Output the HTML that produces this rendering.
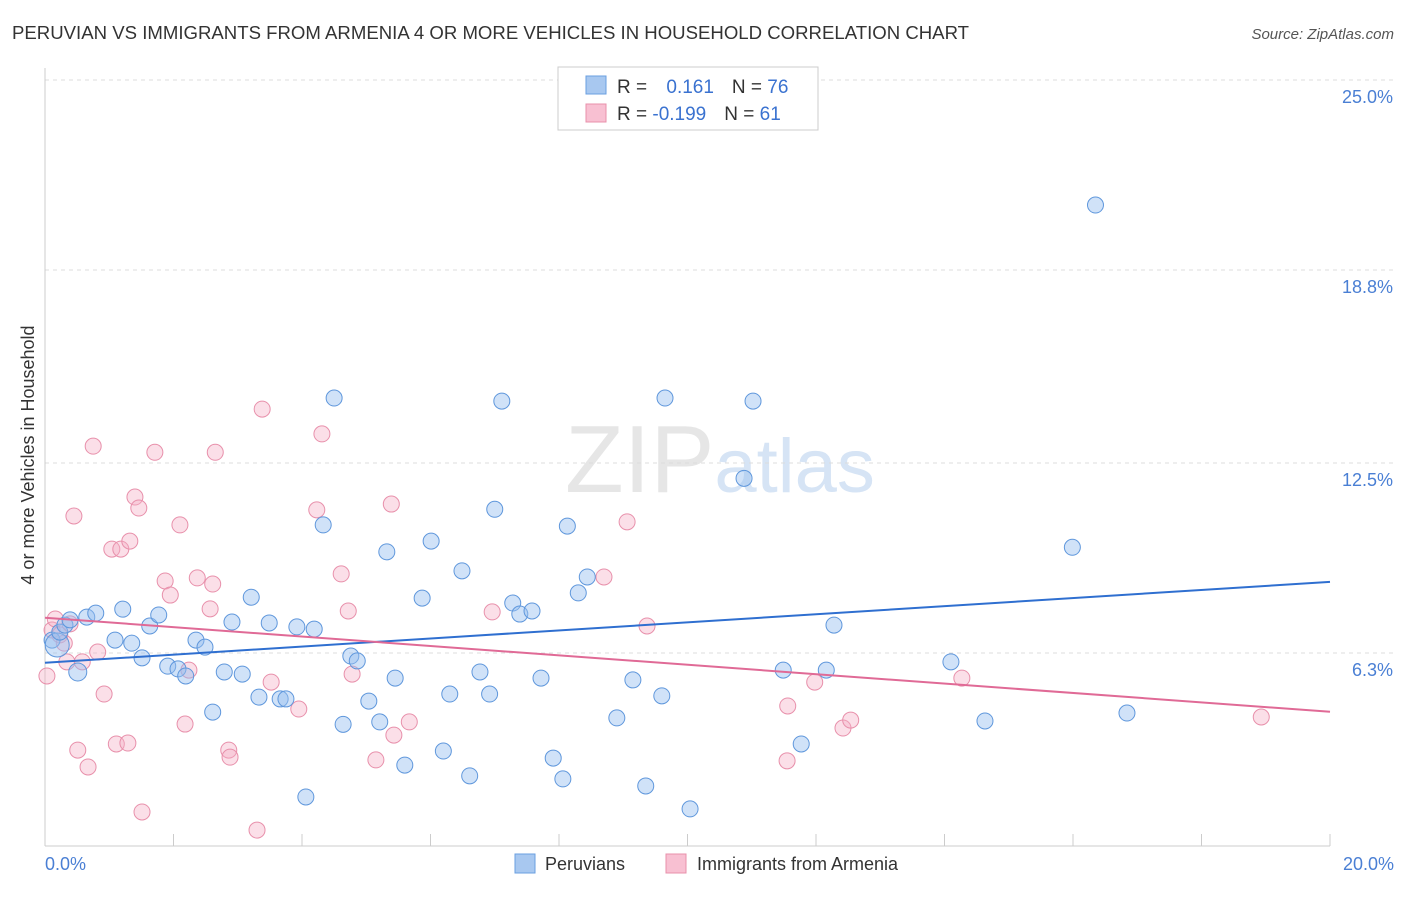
<!DOCTYPE html>
<html><head><meta charset="utf-8">
<style>
body{margin:0;background:#fff;font-family:"Liberation Sans",sans-serif;}
svg text{font-family:"Liberation Sans",sans-serif;}
</style></head>
<body>
<svg id="chart" width="1406" height="892" xmlns="http://www.w3.org/2000/svg">
<text x="12" y="39" font-size="18.6" fill="#333">PERUVIAN VS IMMIGRANTS FROM ARMENIA 4 OR MORE VEHICLES IN HOUSEHOLD CORRELATION CHART</text>
<text x="1394" y="39" font-size="15" fill="#555" text-anchor="end" font-style="italic">Source: ZipAtlas.com</text>
<text x="720" y="492" font-size="96" fill="#e6e6e6" text-anchor="middle" font-family="Liberation Serif">ZIP<tspan fill="#d6e4f5" font-family="Liberation Sans" font-size="76">atlas</tspan></text>
<g id="grid"></g>
<g id="marks"></g>
<text transform="translate(34,455) rotate(-90)" font-size="18" fill="#333" text-anchor="middle">4 or more Vehicles in Household</text>
<text x="45" y="870" font-size="18" fill="#4a7fd4">0.0%</text>
<text x="1394" y="870" font-size="18" fill="#4a7fd4" text-anchor="end">20.0%</text>
<g>
<rect x="558" y="67" width="260" height="63" fill="#fff" stroke="#ccc"/>
<rect x="586" y="76" width="20" height="18" fill="#a8c8f0" stroke="#6a9fe0"/>
<rect x="586" y="104" width="20" height="18" fill="#f8c0d2" stroke="#e890ab"/>
<text x="617" y="93" font-size="19" fill="#333">R = <tspan fill="#3a72d0" dx="14">0.161</tspan><tspan dx="18">N = </tspan><tspan fill="#3a72d0">76</tspan></text>
<text x="617" y="120" font-size="19" fill="#333">R = <tspan fill="#3a72d0">-0.199</tspan><tspan dx="18">N = </tspan><tspan fill="#3a72d0">61</tspan></text>
</g>
<g>
<rect x="515" y="854" width="20" height="19" fill="#a8c8f0" stroke="#6a9fe0"/>
<text x="545" y="870" font-size="18" fill="#333">Peruvians</text>
<rect x="666" y="854" width="20" height="19" fill="#f8c0d2" stroke="#e890ab"/>
<text x="697" y="870" font-size="18" fill="#333">Immigrants from Armenia</text>
</g>
</svg>
<script>
const yTicks=[25.0,18.8,12.5,6.3];
const yTickLabels=["25.0%","18.8%","12.5%","6.3%"];
const xTicks=[0,2,4,6,8,10,12,14,16,18,20];
const blueX=[0.11,0.19,0.23,0.31,0.39,0.51,0.65,0.79,1.09,1.21,1.35,1.51,1.63,1.77,1.91,2.07,2.19,2.35,2.49,2.61,2.79,2.91,3.07,3.21,3.33,3.49,3.66,3.75,3.92,4.06,4.19,4.33,4.5,4.64,4.76,4.86,5.04,5.21,5.32,5.45,5.6,5.87,6.01,6.2,6.3,6.49,6.61,6.77,6.92,7.0,7.11,7.28,7.39,7.58,7.72,7.91,8.06,8.13,8.3,8.44,8.9,9.15,9.35,9.6,9.65,10.04,10.88,11.02,11.49,11.77,12.16,12.28,14.1,14.63,15.99,16.35,16.84];
const blueY=[6.72,6.56,6.98,7.21,7.38,5.68,7.47,7.6,6.72,7.73,6.62,6.14,7.18,7.54,5.87,5.78,5.55,6.72,6.49,4.37,5.68,7.31,5.61,8.12,4.86,7.28,4.8,4.8,7.15,1.6,7.08,10.48,14.62,3.97,6.2,6.04,4.73,4.05,9.6,5.48,2.64,8.09,9.95,3.1,4.96,8.98,2.29,5.68,4.96,10.99,14.52,7.93,7.57,7.67,5.48,2.87,2.19,10.44,8.26,8.78,4.18,5.42,1.96,4.9,14.62,1.21,12.0,14.52,5.74,3.33,5.74,7.21,6.01,4.08,9.75,20.92,4.34];
const blueR=[8,12,8,8,8,9,8,8,8,8,8,8,8,8,8,8,8,8,8,8,8,8,8,8,8,8,8,8,8,8,8,8,8,8,8,8,8,8,8,8,8,8,8,8,8,8,8,8,8,8,8,8,8,8,8,8,8,8,8,8,8,8,8,8,8,8,8,8,8,8,8,8,8,8,8,8,8];
const pinkX=[0.03,0.11,0.16,0.23,0.3,0.34,0.39,0.45,0.51,0.58,0.67,0.75,0.82,0.92,1.04,1.11,1.18,1.29,1.32,1.4,1.46,1.51,1.71,1.87,1.95,2.1,2.18,2.24,2.37,2.57,2.61,2.65,2.86,2.88,3.3,3.38,3.52,3.95,4.23,4.31,4.61,4.72,4.78,5.15,5.39,5.43,5.67,6.96,8.7,9.06,9.37,11.56,11.55,11.98,12.42,12.54,14.27,18.93];
const pinkY=[5.55,7.05,7.41,6.89,6.62,6.01,7.25,10.77,3.13,6.01,2.58,13.05,6.33,4.96,9.69,3.33,9.69,3.36,9.95,11.39,11.03,1.11,12.85,8.65,8.19,10.48,3.98,5.74,8.75,7.74,8.55,12.85,3.13,2.9,0.52,14.26,5.35,4.47,10.97,13.45,8.88,7.67,5.61,2.81,11.16,3.62,4.05,7.64,8.78,10.58,7.18,4.57,2.78,5.35,3.85,4.11,5.48,4.21];
const blueLine=[5.98,8.62];
const pinkLine=[7.45,4.38];
const X0=45,X1=1330,YB=846,PPU=30.64;
const sx=v=>X0+(v/20)*(X1-X0);
const sy=v=>YB-v*PPU;
const NS="http://www.w3.org/2000/svg";
function mk(t,a,p){const e=document.createElementNS(NS,t);for(const k in a)e.setAttribute(k,a[k]);p.appendChild(e);return e;}
const grid=document.getElementById('grid'),marks=document.getElementById('marks');
yTicks.forEach((v,i)=>{
 const l=mk('line',{x1:X0,x2:1394,y1:sy(v),y2:sy(v),stroke:'#dcdcdc','stroke-dasharray':'4,4'},grid);
 
 
 const t=mk('text',{x:1393,y:sy(v)+23,'font-size':18,fill:'#4a7fd4','text-anchor':'end'},grid);
 t.textContent=yTickLabels[i];
 
 
});
const ax=mk('line',{x1:X0,x2:X0,y1:68,y2:YB,stroke:'#ccc'},grid);


const bx=mk('line',{x1:X0,x2:X1,y1:YB,y2:YB,stroke:'#ccc'},grid);


xTicks.forEach(v=>{
 const l=mk('line',{x1:sx(v),x2:sx(v),y1:YB,y2:YB-12,stroke:'#ccc'},grid);
 
 
});
pinkX.forEach((v,i)=>{
 const c=mk('circle',{cx:sx(v),cy:sy(pinkY[i]),r:8,fill:'rgba(245,175,198,0.4)',stroke:'#e890ab','stroke-width':1},marks);
 
 
});
blueX.forEach((v,i)=>{
 const c=mk('circle',{cx:sx(v),cy:sy(blueY[i]),r:blueR[i],fill:'rgba(150,190,240,0.45)',stroke:'#5f97dc','stroke-width':1},marks);
 
 
});
const bl=mk('line',{x1:sx(0),y1:sy(blueLine[0]),x2:sx(20),y2:sy(blueLine[1]),stroke:'#2f6fd0','stroke-width':2},marks);


const pl=mk('line',{x1:sx(0),y1:sy(pinkLine[0]),x2:sx(20),y2:sy(pinkLine[1]),stroke:'#e06a96','stroke-width':2},marks);


</script>
</body></html>
